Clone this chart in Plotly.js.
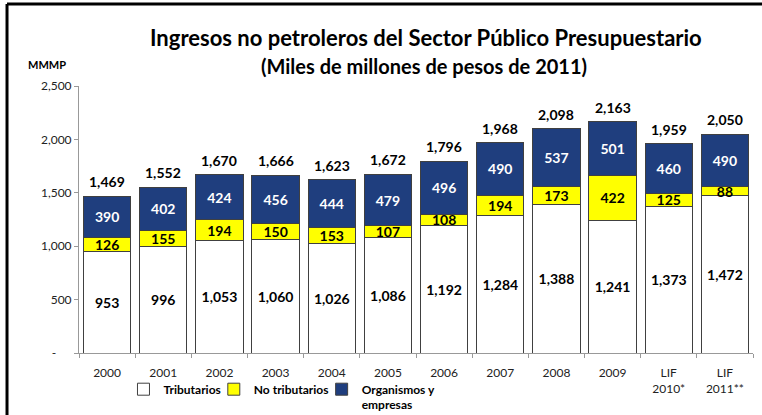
<!DOCTYPE html>
<html><head><meta charset="utf-8">
<script src="https://cdn.plot.ly/plotly-3.0.1.min.js"></script>
<style>html,body{margin:0;padding:0;background:#fff}#chart{width:762px;height:415px}</style>
</head><body><div id="chart"></div>
<script>
const categories = ['2000','2001','2002','2003','2004','2005','2006','2007','2008','2009','LIF<br>2010*','LIF<br>2011**'];
const tributarios = [953, 996, 1053, 1060, 1026, 1086, 1192, 1284, 1388, 1241, 1373, 1472];
const noTributarios = [126, 155, 194, 150, 153, 107, 108, 194, 173, 422, 125, 88];
const organismos = [390, 402, 424, 456, 444, 479, 496, 490, 537, 501, 460, 490];
const totales = [1469, 1552, 1670, 1666, 1623, 1672, 1796, 1968, 2098, 2163, 1959, 2050];
const yTickVals = [0, 500, 1000, 1500, 2000, 2500];
const yTickText = ['-\u00a0\u00a0\u00a0\u00a0\u00a0', '500', '1,000', '1,500', '2,000', '2,500'];
const seriesNames = ['Tributarios', 'No tributarios', 'Organismos y<br>empresas'];

const FONT = 'Lato, "Open Sans", sans-serif';
const outline = {color: '#404040', width: 1};
function barTrace(name, y, color, txtColor, legendId) {
  return {
    type: 'bar', name: name, x: categories, y: y,
    marker: {color: color, line: outline},
    texttemplate: '%{y:,}', textposition: 'inside', insidetextanchor: 'middle',
    textangle: 0, constraintext: 'none',
    textfont: {family: FONT, size: 14, color: txtColor, weight: 700},
    legend: legendId, hoverinfo: 'skip'
  };
}
const traces = [
  barTrace(seriesNames[0], tributarios, '#FFFFFF', '#000000', 'legend'),
  barTrace(seriesNames[1], noTributarios, '#FFFF00', '#000000', 'legend2'),
  barTrace(seriesNames[2], organismos, '#1F3E7E', '#FFFFFF', 'legend3')
];
// total labels: x given as category index on the category axis
const totalLabels = categories.map((c, i) => ({
  x: i, y: totales[i], xref: 'x', yref: 'y', text: totales[i].toLocaleString('en-US'),
  showarrow: false, yanchor: 'bottom', xanchor: 'center', yshift: 4,
  font: {family: FONT, size: 14, color: '#000', weight: 700}
}));
const legendBase = {orientation: 'h', yanchor: 'top', y: -0.082, xanchor: 'left', valign: 'top',
  font: {family: FONT, size: 12, color: '#000', weight: 700}, bgcolor: 'rgba(0,0,0,0)', itemwidth: 30};
const layout = {
  width: 762, height: 415,
  margin: {l: 79, r: 9, t: 86, b: 62, autoexpand: false},
  paper_bgcolor: '#fff', plot_bgcolor: '#fff',
  barmode: 'stack', bargap: 0.16,
  font: {family: FONT, color: '#222'},
  showlegend: true,
  legend: Object.assign({}, legendBase, {x: 0.066}),
  legend2: Object.assign({}, legendBase, {x: 0.2}),
  legend3: Object.assign({}, legendBase, {x: 0.36}),
  uniformtext: {mode: 'show', minsize: 14},
  xaxis: {
    type: 'category', categoryorder: 'array', categoryarray: categories,
    range: [-0.5, categories.length - 0.5],
    tickson: 'boundaries', ticks: 'outside', ticklen: 4,
    tickcolor: '#999', showline: true, linecolor: '#999', linewidth: 1,
    tickfont: {family: FONT, size: 12, color: '#222'}, showgrid: false, fixedrange: true,
    automargin: false, ticklabelstandoff: 9
  },
  yaxis: {
    range: [0, 2500], tickvals: yTickVals, ticktext: yTickText,
    ticks: 'outside', ticklen: 4, tickcolor: '#999', showline: true, linecolor: '#999',
    showgrid: false, zeroline: false, tickfont: {family: FONT, size: 12, color: '#222'},
    fixedrange: true, automargin: false
  },
  annotations: [
    {text: 'Ingresos no petroleros del Sector Público Presupuestario', xref: 'paper', yref: 'paper',
     x: 0.515, y: 1.18, xanchor: 'center', yanchor: 'middle', showarrow: false,
     font: {family: FONT, size: 22, color: '#000', weight: 700}},
    {text: '(Miles de millones de pesos de 2011)', xref: 'paper', yref: 'paper',
     x: 0.512, y: 1.075, xanchor: 'center', yanchor: 'middle', showarrow: false,
     font: {family: FONT, size: 20, color: '#000', weight: 700}},
    {text: 'MMMP', xref: 'paper', yref: 'paper', x: -0.047, y: 1.082, xanchor: 'center', yanchor: 'middle',
     showarrow: false, font: {family: FONT, size: 11, color: '#000', weight: 700}}
  ].concat(totalLabels),
  shapes: [
    {type: 'line', xref: 'paper', yref: 'paper', x0: -0.1068, x1: -0.1068, y0: 1.307, y1: -0.3,
     line: {color: '#000', width: 3}},
    {type: 'line', xref: 'paper', yref: 'paper', x0: -0.1068, x1: 1.05, y0: 1.307, y1: 1.307,
     line: {color: '#000', width: 3}}
  ]
};
Plotly.newPlot('chart', traces, layout, {displayModeBar: false, staticPlot: true});
</script></body></html>
